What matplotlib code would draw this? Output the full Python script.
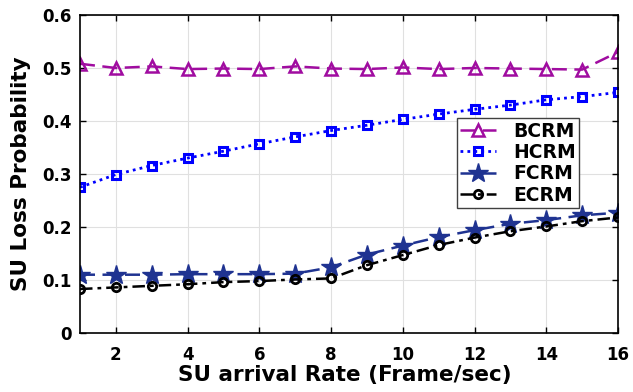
import numpy as np
import matplotlib
matplotlib.use("Agg")
import matplotlib.pyplot as plt
from matplotlib.ticker import FuncFormatter

plt.rcParams['font.family'] = ['DejaVu Sans']
plt.rcParams['font.weight'] = 'bold'

x = np.arange(1, 17)
bcrm = [0.508, 0.500, 0.503, 0.498, 0.499, 0.498, 0.503, 0.499, 0.498, 0.501,
        0.498, 0.500, 0.499, 0.498, 0.497, 0.530]
hcrm = [0.275, 0.299, 0.316, 0.330, 0.343, 0.357, 0.370, 0.382, 0.392, 0.403,
        0.413, 0.422, 0.430, 0.440, 0.446, 0.454]
fcrm = [0.110, 0.110, 0.110, 0.111, 0.111, 0.111, 0.112, 0.124, 0.148, 0.165,
        0.181, 0.194, 0.206, 0.213, 0.222, 0.227]
ecrm = [0.083, 0.086, 0.089, 0.092, 0.096, 0.098, 0.101, 0.103, 0.128, 0.147,
        0.166, 0.180, 0.192, 0.201, 0.211, 0.218]

fig = plt.figure(figsize=(6.33, 3.92), dpi=100)
ax = fig.add_axes([80 / 633, 1 - 333 / 392, 538 / 633, 318 / 392])

ax.plot(x, bcrm, color='#a00ca0', linestyle=(0, (6, 3)), linewidth=1.8,
        marker='^', markersize=9, markerfacecolor='none', markeredgewidth=1.8, label='BCRM')
ax.plot(x, hcrm, color='#0000ff', linestyle=(0, (1, 1.5)), linewidth=2.0,
        marker='s', markersize=6, markerfacecolor='none', markeredgewidth=2.2, label='HCRM')
ax.plot(x, fcrm, color='#1f3391', linestyle=(0, (6, 3)), linewidth=1.8,
        marker='*', markersize=15, markerfacecolor='#1f3391', label='FCRM')
ax.plot(x, ecrm, color='black', linestyle=(0, (5, 2, 1.5, 2)), linewidth=1.8,
        marker='o', markersize=6, markerfacecolor='none', markeredgewidth=2.0, label='ECRM')

ax.set_xlim(1, 16)
ax.set_ylim(0, 0.6)
ax.set_xticks([2, 4, 6, 8, 10, 12, 14, 16])
ax.set_yticks(np.arange(0, 0.61, 0.1))
ax.yaxis.set_major_formatter(FuncFormatter(lambda v, p: '0' if abs(v) < 1e-9 else f'{v:.1f}'))
ax.tick_params(labelsize=12, direction='in', length=4, width=1,
               top=True, right=True)
ax.tick_params(axis='x', pad=9)
ax.tick_params(axis='y', pad=6)
for lab in ax.get_xticklabels() + ax.get_yticklabels():
    lab.set_fontweight('bold')
ax.grid(True, color='#e0e0e0', linewidth=0.8)
for s in ax.spines.values():
    s.set_linewidth(1.2)

ax.set_xlabel('SU arrival Rate (Frame/sec)', fontsize=15.5, fontweight='bold')
ax.set_ylabel('SU Loss Probability', fontsize=15.5, fontweight='bold')
ax.xaxis.set_label_coords(0.493, -0.102)
ax.yaxis.set_label_coords(-0.091, 0.5)

leg = ax.legend(loc='upper left', bbox_to_anchor=(0.7, 0.676), borderaxespad=0,
                fontsize=13.5, fancybox=False, framealpha=1, edgecolor='#404040',
                handlelength=1.9, borderpad=0.2, labelspacing=0.12,
                handletextpad=0.9)
leg.get_frame().set_linewidth(1.0)
for t in leg.get_texts():
    t.set_fontweight('bold')

fig.savefig('out.png', dpi=100)
